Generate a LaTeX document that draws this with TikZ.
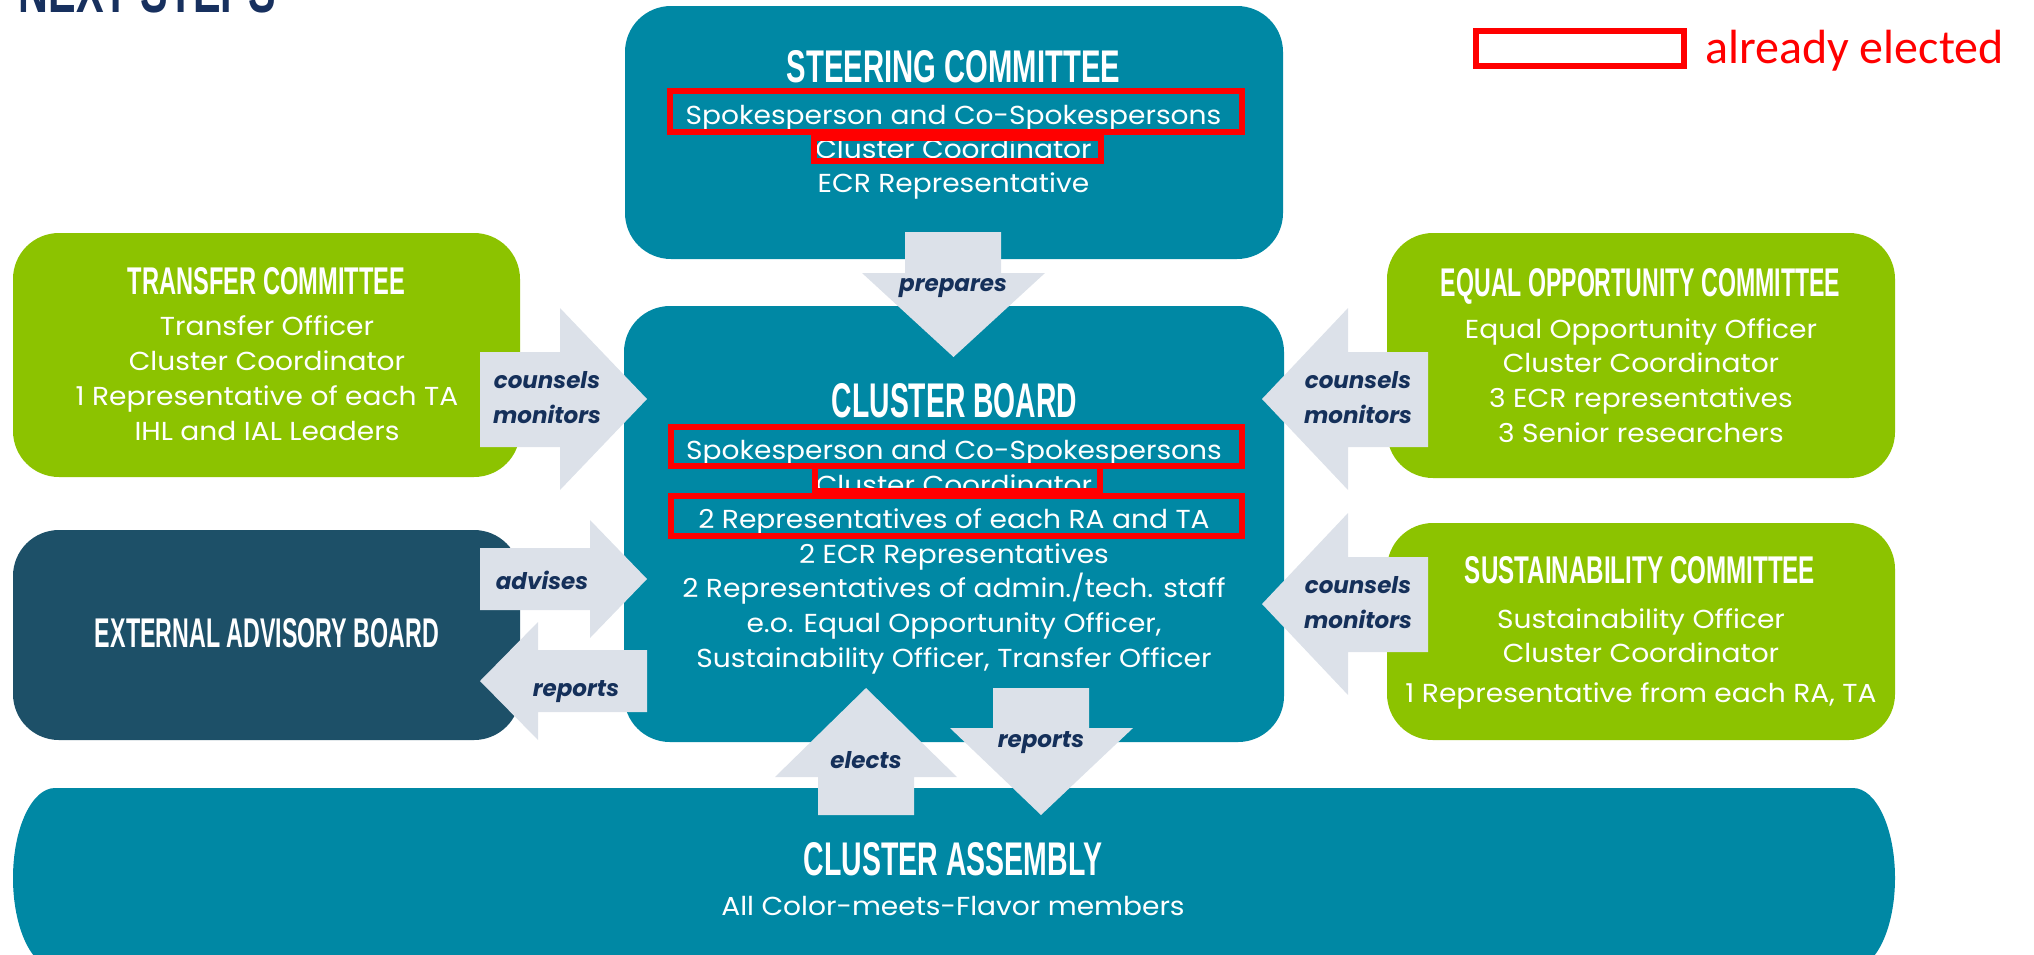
\documentclass[tikz,border=0pt]{standalone}
\usepackage{fontspec}
\usepackage{graphicx}
\setmainfont{Poppins}
\newfontfamily\bodyfont{Poppins}[FakeStretch=1.08]
\newfontfamily\ttlfont{Liberation Sans}
\newfontfamily\lgdfont{Carlito}
\definecolor{cteal}{HTML}{0088A4}
\definecolor{cgreen}{HTML}{8CC300}
\definecolor{cdark}{HTML}{1D5068}
\definecolor{carrow}{HTML}{DCE1E9}
\definecolor{cnavy}{HTML}{15305A}
\definecolor{cred}{HTML}{FF0000}
\definecolor{ctitle}{HTML}{17305E}
\newcommand\ttl[3]{\resizebox{#1pt}{#2pt}{\ttlfont\bfseries #3}}
\begin{document}
\begin{tikzpicture}[x=1pt,y=-1pt,
  box/.style={draw=none, inner sep=0pt, outer sep=0pt, rounded corners=46pt, anchor=north west},
  tealbox/.style={box, fill=cteal},
  greenbox/.style={box, fill=cgreen},
  darkbox/.style={box, fill=cdark},
  title/.style={text=white, inner sep=0pt, anchor=base},
  body/.style={text=white, inner sep=0pt, anchor=base, font=\bodyfont\fontsize{26}{30}\selectfont},
  lbl/.style={text=cnavy, inner sep=0pt, anchor=base, font=\fontsize{23}{26}\selectfont\bfseries\itshape},
  redframe/.style={draw=cred, line width=5.5pt, inner sep=0pt, outer sep=0pt},
  blockarrow/.style={fill=carrow, draw=none},
]
\useasboundingbox (0,0) rectangle (2034,954);
\clip (0,0) rectangle (2034,954);

% boxes
\node[tealbox, minimum width=658pt, minimum height=253pt] (steer) at (625,6) {};
\node[tealbox, minimum width=660pt, minimum height=436pt] (board) at (624,306) {};
\node[greenbox, minimum width=507pt, minimum height=244pt] (transfer) at (13,233) {};
\node[darkbox, minimum width=507pt, minimum height=210pt] (eab) at (13,530) {};
\node[greenbox, minimum width=508pt, minimum height=245pt] (equal) at (1387,233) {};
\node[greenbox, minimum width=508pt, minimum height=217pt] (sustain) at (1387,523) {};
\fill[cteal] (55,788) -- (1853,788) arc[start angle=-90, end angle=90, x radius=42, y radius=90]
  -- (55,968) arc[start angle=90, end angle=270, x radius=42, y radius=90] -- cycle;

% titles
\node[inner sep=0pt, anchor=base, text=ctitle] (next) at (147.5,12) {\ttl{257}{44}{NEXT STEPS}};
\node[title] (tSteer) at (953.5,82) {\ttl{333}{32}{STEERING COMMITTEE}};
\node[title] (tBoard) at (954.5,417) {\ttl{245}{34}{CLUSTER BOARD}};
\node[title] (tTransfer) at (266.5,294) {\ttl{277}{27}{TRANSFER COMMITTEE}};
\node[title] (tEab) at (267,647) {\ttl{344}{29}{EXTERNAL ADVISORY BOARD}};
\node[title] (tEqual) at (1640.5,296) {\ttl{399}{28}{EQUAL OPPORTUNITY COMMITTEE}};
\node[title] (tSustain) at (1640,583) {\ttl{350}{27}{SUSTAINABILITY COMMITTEE}};
\node[title] (tAssembly) at (953,875) {\ttl{298}{33}{CLUSTER ASSEMBLY}};

% body text
\node[body] (s1) at (953.5,124) {Spokesperson and Co-Spokespersons};
\node[body] (s2) at (953.5,158) {Cluster Coordinator};
\node[body] (s3) at (953.5,192) {ECR Representative};

\node[body] (b1) at (954,459) {Spokesperson and Co-Spokespersons};
\node[body] (b2) at (954,494) {Cluster Coordinator};
\node[body] (b3) at (954,528) {2 Representatives of each RA and TA};
\node[body] (b4) at (954,563) {2 ECR Representatives};
\node[body] (b5) at (954,597) {2 Representatives of admin./tech. staff};
\node[body] (b6) at (954,632) {e.o. Equal Opportunity Officer,};
\node[body] (b7) at (954,667) {Sustainability Officer, Transfer Officer};

\node[body] (tr1) at (267,335) {Transfer Officer};
\node[body] (tr2) at (267,370) {Cluster Coordinator};
\node[body] (tr3) at (267,405) {1 Representative of each TA};
\node[body] (tr4) at (267,440) {IHL and IAL Leaders};

\node[body] (e1) at (1641,338) {Equal Opportunity Officer};
\node[body] (e2) at (1641,372) {Cluster Coordinator};
\node[body] (e3) at (1641,407) {3 ECR representatives};
\node[body] (e4) at (1641,442) {3 Senior researchers};

\node[body] (su1) at (1641,628) {Sustainability Officer};
\node[body] (su2) at (1641,662) {Cluster Coordinator};
\node[body] (su3) at (1641,702) {1 Representative from each RA, TA};

\node[body] (a1) at (953,915) {All Color-meets-Flavor members};

% red frames
\node[redframe, minimum width=572pt, minimum height=41pt] (rS1) at (956,111.5) {};
\node[redframe, minimum width=287pt, minimum height=23pt] (rS2) at (957.5,149.5) {};
\node[redframe, minimum width=571pt, minimum height=39pt] (rB1) at (956.5,446.5) {};
\node[redframe, minimum width=285pt, minimum height=25pt] (rB2) at (957.5,478.5) {};
\node[redframe, minimum width=571pt, minimum height=40pt] (rB3) at (956.5,516) {};

% block arrows
\fill[blockarrow] (905,232) -- (1001,232) -- (1001,273) -- (1045,273) -- (953.5,357) -- (862,273) -- (905,273) -- cycle;
\fill[blockarrow] (818,815) -- (818,777) -- (775,777) -- (866,688) -- (957,777) -- (914,777) -- (914,815) -- cycle;
\fill[blockarrow] (993,688) -- (1089,688) -- (1089,728) -- (1133,728) -- (1041,815) -- (950,728) -- (993,728) -- cycle;
\fill[blockarrow] (480,352) -- (560,352) -- (560,308) -- (647,399) -- (560,490) -- (560,447) -- (480,447) -- cycle;
\fill[blockarrow] (480,548) -- (590,548) -- (590,520) -- (647,579) -- (590,638) -- (590,610) -- (480,610) -- cycle;
\fill[blockarrow] (647,650) -- (538,650) -- (538,622) -- (480,681) -- (538,740) -- (538,712) -- (647,712) -- cycle;
\fill[blockarrow] (1428,352) -- (1348,352) -- (1348,308) -- (1262,399) -- (1348,490) -- (1348,447) -- (1428,447) -- cycle;
\fill[blockarrow] (1428,557) -- (1348,557) -- (1348,513) -- (1262,604) -- (1348,695) -- (1348,652) -- (1428,652) -- cycle;

% arrow labels
\node[lbl] (lPrep) at (953,291) {prepares};
\node[lbl] (lElects) at (866,768) {elects};
\node[lbl] (lRepDown) at (1041,747) {reports};
\node[lbl] (lC1) at (547,388) {counsels};
\node[lbl] (lM1) at (547,423) {monitors};
\node[lbl] (lAdv) at (542,589) {advises};
\node[lbl] (lRepLeft) at (576,696) {reports};
\node[lbl] (lC2) at (1358,388) {counsels};
\node[lbl] (lM2) at (1358,423) {monitors};
\node[lbl] (lC3) at (1358,593) {counsels};
\node[lbl] (lM3) at (1358,628) {monitors};

% legend
\node[redframe, line width=6pt, minimum width=208pt, minimum height=35pt] (lgBox) at (1580,48.5) {};
\node[inner sep=0pt, anchor=base west, text=cred, font=\lgdfont\fontsize{48}{52}\selectfont] (lgText) at (1705,63) {already elected};
\end{tikzpicture}
\end{document}
